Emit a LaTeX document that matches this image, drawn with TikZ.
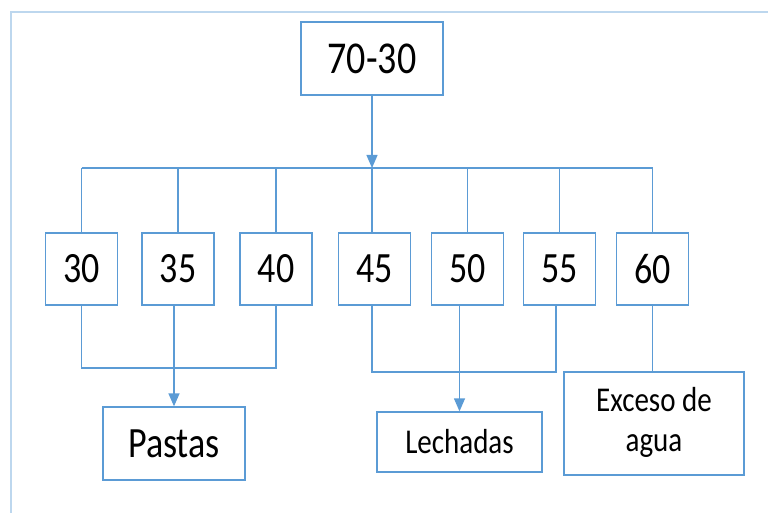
\documentclass[tikz,border=0pt]{standalone}
\usepackage{graphicx}
\usepackage{fontspec}
\setmainfont{Carlito}
\usetikzlibrary{arrows.meta}
\definecolor{ln}{HTML}{5B9BD5}
\definecolor{fr}{HTML}{BDD7EE}
\newcommand\vsc[1]{\scalebox{1}[1.2]{#1}}
\begin{document}
\begin{tikzpicture}[x=1pt,y=-1pt,
  bx/.style={draw=ln,line width=1.3pt,inner sep=0pt,text=black},
  num/.style={bx,minimum width=72pt,minimum height=72pt,font=\fontsize{36}{40}\selectfont},
  conn/.style={draw=ln,line width=1.3pt},
  arr/.style={conn,-{Triangle[length=13pt,width=11pt]}}]
\useasboundingbox (0,0) rectangle (768,513);
\draw[fr,line width=1.5pt] (11,513) -- (11,12) -- (768,12);
\node[bx,minimum width=142pt,minimum height=73pt,font=\fontsize{38}{42}\selectfont] (top) at (372,58.5) {\vsc{70-30}};
\node[num] (b30) at (81.5,269) {\vsc{30}};
\node[num] (b35) at (178,269) {\vsc{35}};
\node[num] (b40) at (276,269) {\vsc{40}};
\node[num] (b45) at (374.5,269) {\vsc{45}};
\node[num] (b50) at (467.5,269) {\vsc{50}};
\node[num] (b55) at (559.5,269) {\vsc{55}};
\node[num] (b60) at (652.5,269) {\vsc{60}};
\node[bx,minimum width=142pt,minimum height=73pt,font=\fontsize{36}{40}\selectfont] (pastas) at (174,443.5) {\vsc{Pastas}};
\node[bx,minimum width=165pt,minimum height=60pt,font=\fontsize{29}{33}\selectfont] (lech) at (459.5,442) {\vsc{Lechadas}};
\node[bx,minimum width=180pt,minimum height=103pt,font=\fontsize{29}{33.3}\selectfont] (exc) at (654,423.5) {\vsc{\begin{tabular}{@{}c@{}}Exceso de\\agua\end{tabular}}};
\coordinate (bus) at (372,168);
\coordinate (lg) at (0,368);
\coordinate (rg) at (0,372);
\draw[arr] (top.south) -- (top.south |- bus);
\draw[conn] (b30.north |- bus) -- (b60.north |- bus);
\foreach \n in {b30,b35,b40,b50,b55,b60}
  \draw[conn] (\n.north) -- (\n.north |- bus);
\draw[conn] (b45.north -| top.south) -- (top.south |- bus);
\draw[conn] (b30.south) -- (b30.south |- lg) -- (b40.south |- lg) -- (b40.south);
\draw[arr] (b35.south -| pastas.north) -- (pastas.north);
\draw[conn] (b45.south -| 372,0) -- (372,372) -- (556,372) -- (b55.south -| 556,0);
\draw[arr] (b50.south -| lech.north) -- (lech.north);
\draw[conn] (b60.south) -- (exc.north -| b60.south);
\end{tikzpicture}
\end{document}
